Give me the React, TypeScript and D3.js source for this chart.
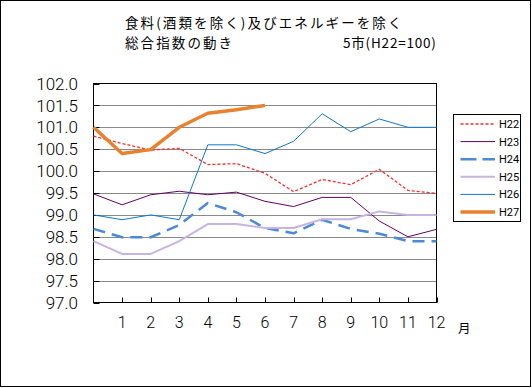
import React from "react";
import * as d3 from "d3";

const months = [0, 1, 2, 3, 4, 5, 6, 7, 8, 9, 10, 11, 12];
const xTickLabels = [1, 2, 3, 4, 5, 6, 7, 8, 9, 10, 11, 12];
const yTicks = [97.0, 97.5, 98.0, 98.5, 99.0, 99.5, 100.0, 100.5, 101.0, 101.5, 102.0];

const h22 = [100.8, 100.63, 100.48, 100.52, 100.15, 100.17, 99.95, 99.53, 99.81, 99.69, 100.04, 99.56, 99.49];
const h23 = [99.48, 99.23, 99.46, 99.54, 99.46, 99.52, 99.31, 99.19, 99.4, 99.4, 98.86, 98.5, 98.67];
const h24 = [98.68, 98.49, 98.49, 98.77, 99.27, 99.06, 98.7, 98.58, 98.89, 98.68, 98.57, 98.4, 98.4];
const h25 = [98.4, 98.11, 98.11, 98.4, 98.79, 98.79, 98.7, 98.7, 98.9, 98.9, 99.08, 99.0, 99.0];
const h26 = [99.0, 98.89, 99.0, 98.89, 100.6, 100.6, 100.4, 100.68, 101.31, 100.9, 101.19, 101.0, 101.0];
const h27 = [101.0, 100.4, 100.49, 101.0, 101.32, 101.4, 101.5];

const seriesNames = ["H22", "H23", "H24", "H25", "H26", "H27"];

type Style = { color: string; width: number; dash?: string };
const styles: Style[] = [
  { color: "#ff2a2a", width: 1.3, dash: "3,2" },
  { color: "#660066", width: 1 },
  { color: "#4a8ad8", width: 2.5, dash: "12,7" },
  { color: "#c8b4e4", width: 2 },
  { color: "#0f78cc", width: 1 },
  { color: "#e8822e", width: 3.5 },
];

const FONT = "'Noto Sans CJK JP', sans-serif";
const NUMFONT = "Roboto, 'Noto Sans', sans-serif";

export default function App() {
  const W = 532;
  const H = 388;
  const left = 93.5;
  const right = 436.5;
  const top = 83.5;
  const bottom = 302.5;

  const x = d3.scaleLinear().domain([0, 12]).range([left, right]);
  const y = d3.scaleLinear().domain([97, 102]).range([bottom, top]);

  const allSeries = [h22, h23, h24, h25, h26, h27];
  const line = d3
    .line<number>()
    .x((_, i) => x(months[i]))
    .y((d) => y(d));

  const legX = 453.5;
  const legY = 114.5;
  const legW = 67;
  const legH = 107;

  return (
    <svg width={W} height={H} style={{ position: "absolute", left: 0, top: 0 }}>
      <rect x={0} y={0} width={W} height={H} fill="#fff" />
      <rect x={0.5} y={0.5} width={530} height={386} fill="none" stroke="#000" strokeWidth={1} />

      {/* title */}
      <text x={125} y={28} fontFamily={FONT} fontSize={13.5} letterSpacing={2.1} fill="#000">
        食料(酒類を除く)及びエネルギーを除く
      </text>
      <text x={125} y={48} fontFamily={FONT} fontSize={13.5} letterSpacing={2.1} fill="#000">
        総合指数の動き
      </text>
      <text x={343} y={48} fontFamily={FONT} fontSize={13.5} letterSpacing={0.8} fill="#000">
        5市(H22=100)
      </text>

      {/* gridlines */}
      {yTicks.slice(1, -1).map((t) => (
        <line
          key={"g" + t}
          x1={left}
          x2={right}
          y1={Math.round(y(t)) + 0.5}
          y2={Math.round(y(t)) + 0.5}
          stroke="#8a8a8a"
          strokeWidth={1}
        />
      ))}

      {/* plot border */}
      <rect x={left} y={top} width={right - left} height={bottom - top} fill="none" stroke="#000" strokeWidth={1} />

      {/* y ticks & labels */}
      {yTicks.map((t) => (
        <g key={"y" + t}>
          <line x1={left} x2={left + 6} y1={Math.round(y(t)) + 0.5} y2={Math.round(y(t)) + 0.5} stroke="#000" />
          <text
            x={78}
            y={y(t)}
            dy="0.36em"
            textAnchor="end"
            fontFamily={NUMFONT}
            fontSize={17}
            fontWeight={300}
            fill="#000"
          >
            {t.toFixed(1)}
          </text>
        </g>
      ))}

      {/* x ticks & labels */}
      {xTickLabels.map((m) => (
        <g key={"x" + m}>
          <line x1={Math.round(x(m)) + 0.5} x2={Math.round(x(m)) + 0.5} y1={bottom} y2={bottom - 5} stroke="#000" />
          <text x={x(m)} y={328} textAnchor="middle" fontFamily={NUMFONT} fontSize={16} fontWeight={300} fill="#000">
            {m}
          </text>
        </g>
      ))}
      <text x={458} y={333} fontFamily={FONT} fontSize={12.5} fill="#000">
        月
      </text>

      {/* series */}
      {allSeries.map((s, i) => (
        <path
          key={seriesNames[i]}
          d={line(s) || ""}
          fill="none"
          stroke={styles[i].color}
          strokeWidth={styles[i].width}
          strokeDasharray={styles[i].dash}
          strokeLinejoin="round"
        />
      ))}

      {/* legend */}
      <rect x={legX} y={legY} width={legW} height={legH} fill="#fff" stroke="#000" strokeWidth={1} />
      {seriesNames.map((n, i) => {
        const cy = 124 + i * 17.6;
        return (
          <g key={"l" + n}>
            <line
              x1={460.5}
              x2={495}
              y1={cy}
              y2={cy}
              stroke={styles[i].color}
              strokeWidth={styles[i].width}
              strokeDasharray={i === 2 ? "16,6" : styles[i].dash}
            />
            <text x={499} y={cy} dy="0.36em" fontFamily={NUMFONT} fontSize={11} fill="#000">
              {n}
            </text>
          </g>
        );
      })}
    </svg>
  );
}
